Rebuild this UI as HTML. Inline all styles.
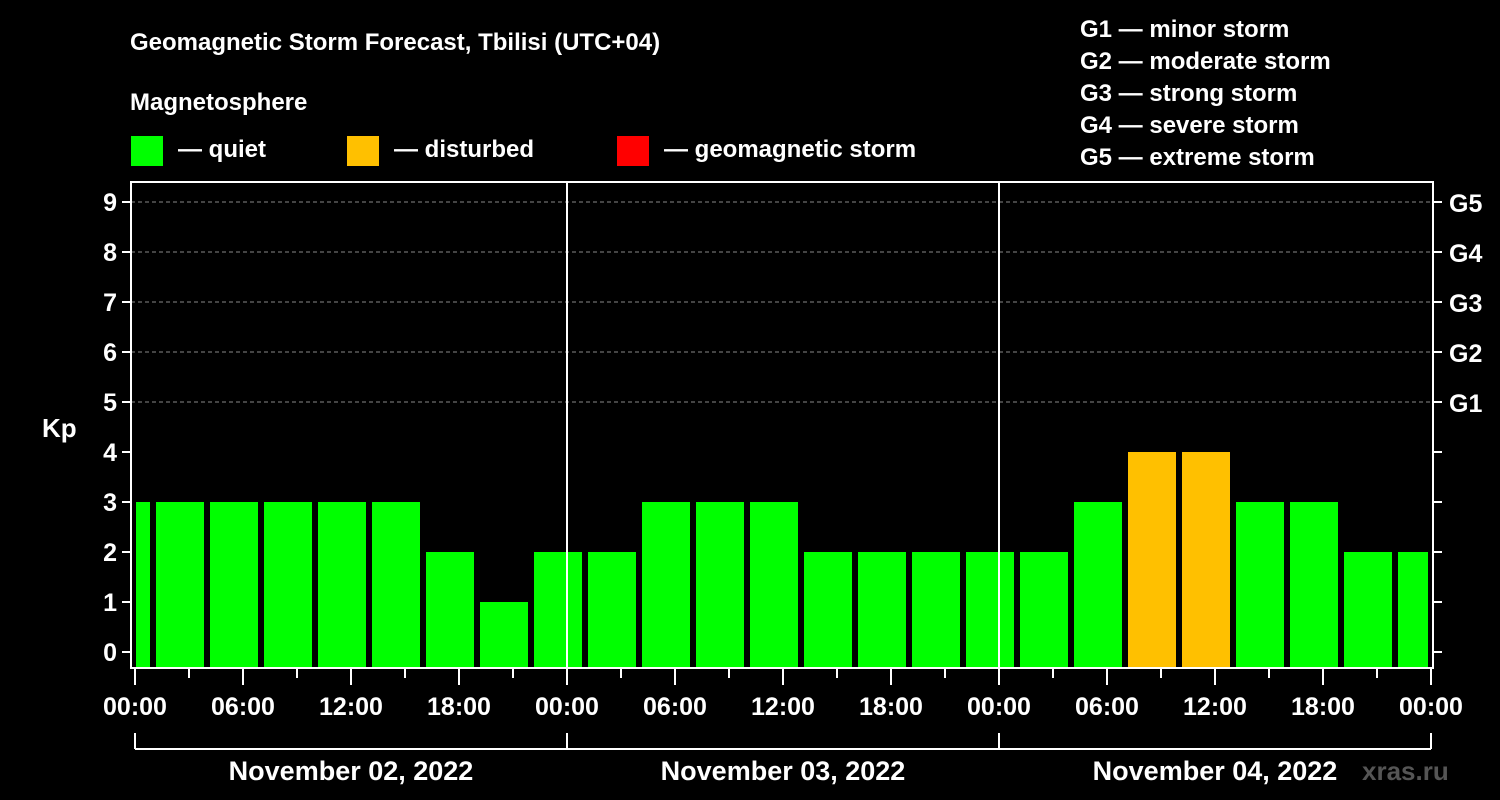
<!DOCTYPE html>
<html><head><meta charset="utf-8"><style>
body{margin:0;background:#000;}
svg{display:block;font-family:"Liberation Sans",Arial,sans-serif;font-weight:bold;}
</style></head><body>
<svg id="chart" width="1500" height="800" viewBox="0 0 1500 800">
<rect width="1500" height="800" fill="#000"/>
<text x="130" y="50" fill="#fff" font-size="24">Geomagnetic Storm Forecast, Tbilisi (UTC+04)</text>
<text x="130" y="110" fill="#fff" font-size="24">Magnetosphere</text>
<g><rect x="131" y="136" width="32" height="30" fill="#00ff00"/><text x="178" y="157" fill="#fff" font-size="24">— quiet</text></g>
<g><rect x="347" y="136" width="32" height="30" fill="#ffc000"/><text x="394" y="157" fill="#fff" font-size="24">— disturbed</text></g>
<g><rect x="617" y="136" width="32" height="30" fill="#ff0000"/><text x="664" y="157" fill="#fff" font-size="24">— geomagnetic storm</text></g>
<g fill="#fff" font-size="24">
<text x="1080" y="37">G1 — minor storm</text>
<text x="1080" y="69">G2 — moderate storm</text>
<text x="1080" y="101">G3 — strong storm</text>
<text x="1080" y="133">G4 — severe storm</text>
<text x="1080" y="165">G5 — extreme storm</text>
</g>
<text x="42" y="437" fill="#fff" font-size="26">Kp</text>
<text x="1362" y="780" fill="#555" font-size="26">xras.ru</text>
<g id="plot"></g>
</svg>
<script>
const binStarts=[-2,1,4,7,10,13,16,19,22,25,28,31,34,37,40,43,46,49,52,55,58,61,64,67,70];
const kpValues=[3,3,3,3,3,3,2,1,2,2,3,3,3,2,2,2,2,2,3,4,4,3,3,2,2];
const yTicks=[0,1,2,3,4,5,6,7,8,9];
const gLabels=["G1","G2","G3","G4","G5"];
const xLabels=["00:00","06:00","12:00","18:00","00:00","06:00","12:00","18:00","00:00","06:00","12:00","18:00","00:00"];
const dayLabels=["November 02, 2022","November 03, 2022","November 04, 2022"];
const NS="http://www.w3.org/2000/svg";
const g=document.getElementById('plot');
const X=h=>135+18*h;
const Y=v=>652-50*v;
const L=131,R=1433,T=182,B=668;
function el(t,a){const e=document.createElementNS(NS,t);for(const k in a)e.setAttribute(k,a[k]);g.appendChild(e);return e;}
// gridlines
yTicks.forEach(v=>{if(v>=5){const e=el('line',{x1:L,x2:R,y1:Y(v),y2:Y(v),stroke:'#888','stroke-dasharray':'4,3','stroke-width':1});

}});
// bars
binStarts.forEach((s,i)=>{const v=kpValues[i];let x0=Math.max(X(s)+3,L+5),x1=Math.min(X(s+3)-3,R-5);
const e=el('rect',{x:x0,y:Y(v),width:x1-x0,height:B-Y(v),fill:v>=5?'#ff0000':(v>=4?'#ffc000':'#00ff00')});

});
// day separators
[1,2].forEach(d=>{const e=el('line',{x1:X(24*d),x2:X(24*d),y1:T,y2:B,stroke:'#fff','stroke-width':2});

});
// frame
const fr=el('rect',{x:L,y:T,width:R-L,height:B-T,fill:'none',stroke:'#fff','stroke-width':2});


// y ticks
yTicks.forEach(v=>{el('line',{x1:L-9,x2:L,y1:Y(v),y2:Y(v),stroke:'#fff','stroke-width':2});
el('line',{x1:R,x2:R+9,y1:Y(v),y2:Y(v),stroke:'#fff','stroke-width':2});
const t=el('text',{x:L-14,y:Y(v)+9,fill:'#fff','font-size':25,'text-anchor':'end'});t.textContent=v;

});
gLabels.forEach((s,i)=>{const t=el('text',{x:R+16,y:Y(5+i)+10,fill:'#fff','font-size':25});t.textContent=s;

});
// x ticks
for(let h=0;h<=72;h+=3){const long=h%6===0;el('line',{x1:X(h),x2:X(h),y1:B,y2:B+(long?17:10),stroke:'#fff','stroke-width':2});}
xLabels.forEach((s,i)=>{const t=el('text',{x:X(6*i),y:715,fill:'#fff','font-size':25,'text-anchor':'middle'});t.textContent=s;

});
// day brackets
el('line',{x1:X(0),x2:X(72),y1:749,y2:749,stroke:'#fff','stroke-width':2});
for(let d=0;d<=3;d++)el('line',{x1:X(24*d),x2:X(24*d),y1:733,y2:749,stroke:'#fff','stroke-width':2});
dayLabels.forEach((s,i)=>{const t=el('text',{x:X(24*i+12),y:780,fill:'#fff','font-size':27,'text-anchor':'middle'});t.textContent=s;

});
</script>
</body></html>
